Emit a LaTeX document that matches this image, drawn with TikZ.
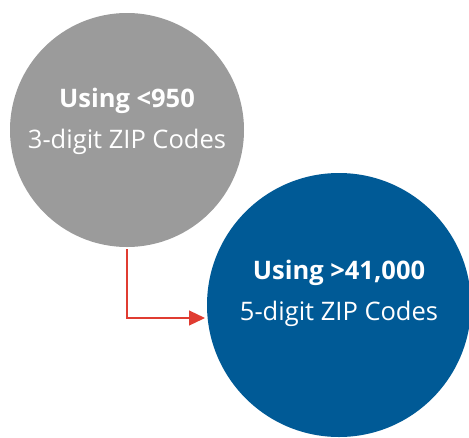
\documentclass[tikz,border=0pt]{standalone}
\usepackage{fontspec}
\setmainfont{Open Sans}
\usetikzlibrary{arrows.meta}
\definecolor{zipgray}{HTML}{9B9B9B}
\definecolor{zipblue}{HTML}{005A96}
\definecolor{ziparrow}{HTML}{E03C31}
\tikzset{
  bubble/.style={circle, inner sep=0pt, draw=none},
  caption/.style={text=white, align=center, font=\fontsize{25.5}{41}\selectfont},
  conn/.style={draw=ziparrow, line width=1.2pt, -{Triangle[length=16pt,width=15pt]}},
}
\begin{document}
\begin{tikzpicture}[x=1pt,y=-1pt]
  \useasboundingbox (0,0) rectangle (469,437);
  % the two sample sizes
  \node[bubble, fill=zipgray, minimum size=234pt] (small) at (127,130) {};
  \node[bubble, fill=zipblue, minimum size=264pt] (large) at (339,305) {};
  \node[caption] (smalltxt) at (127,121) {\textbf{Using <950}\\3-digit ZIP Codes};
  \node[caption] (largetxt) at (339,293) {\textbf{Using >41,000}\\5-digit ZIP Codes};
  % elbow connector
  \coordinate (tip) at (205,318);
  \draw[conn] ([yshift=-2]small.south) |- (tip);
\end{tikzpicture}
\end{document}
